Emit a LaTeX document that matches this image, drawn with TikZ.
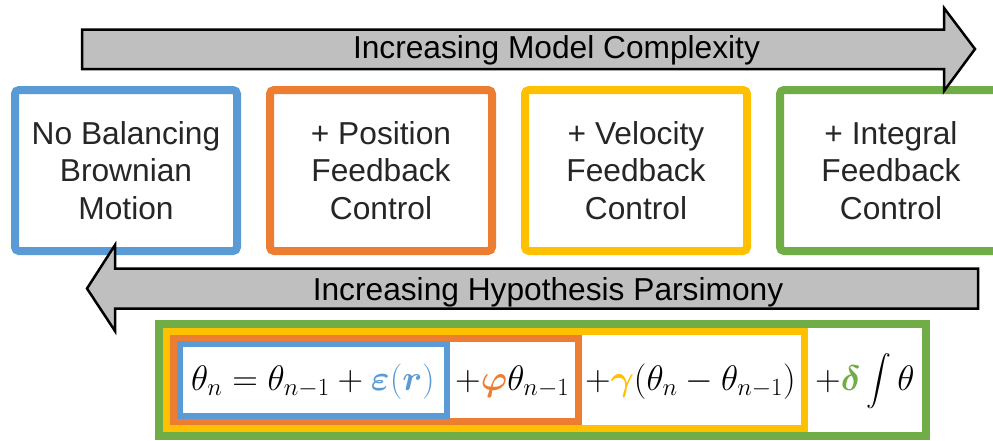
\RequirePackage{fix-cm}
\documentclass[tikz,border=0pt]{standalone}
\usepackage{amsmath,bm}
\usepackage[no-math]{fontspec}
\setmainfont{Liberation Sans}

\definecolor{boxblue}{HTML}{5B9BD5}
\definecolor{boxorange}{HTML}{ED7D31}
\definecolor{boxyellow}{HTML}{FFC000}
\definecolor{boxgreen}{HTML}{70AD47}
\definecolor{arrowgray}{HTML}{BFBFBF}
\definecolor{textdark}{HTML}{262626}

\tikzset{
  stagebox/.style={draw=#1, line width=8pt, rounded corners=4pt, fill=white,
    minimum width=222pt, minimum height=161pt, inner sep=0pt, align=center,
    text=textdark, font=\fontsize{31.7}{37.5}\selectfont},
  bigarrow/.style={draw=black, line width=2.5pt, fill=arrowgray, line join=miter},
  arrowlabel/.style={inner sep=0pt, anchor=base, text=black,
    font=\fontsize{31.7}{36}\selectfont},
  eqframe/.style={draw=#1},
  eqtext/.style={inner sep=0pt, anchor=base west, text=black,
    font=\fontsize{35.5}{40}\selectfont},
}

\begin{document}
\begin{tikzpicture}[x=1pt,y=-1pt]
\useasboundingbox[fill=white] (0,0) rectangle (993,440);

% model stages
\node[stagebox=boxblue]   (brown) at (126,170.5) {No Balancing\\Brownian\\Motion};
\node[stagebox=boxorange] (pos)   at (381,170.5) {+ Position\\Feedback\\Control};
\node[stagebox=boxyellow] (vel)   at (636,170.5) {+ Velocity\\Feedback\\Control};
\node[stagebox=boxgreen]  (integ) at (891,170.5) {+ Integral\\Feedback\\Control};

% complexity arrow (pointing right)
\draw[bigarrow] (82,29.5) -- (944,29.5) -- (944,8) -- (975,49) -- (944,91)
  -- (944,69) -- (82,69) -- cycle;
\node[arrowlabel] (complexity) at (556.5,58) {Increasing Model Complexity};

% parsimony arrow (pointing left)
\draw[bigarrow] (978,268.5) -- (115,268.5) -- (115,245) -- (87,288.5) -- (115,331)
  -- (115,308.5) -- (978,308.5) -- cycle;
\node[arrowlabel] (parsimony) at (548,300) {Increasing Hypothesis Parsimony};

% nested model equations
\draw[eqframe=boxgreen,  line width=8pt] (159,324) rectangle (926,436);
\draw[eqframe=boxyellow, line width=7pt] (166.5,331.5) rectangle (804.5,428.5);
\draw[eqframe=boxorange, line width=7pt] (173.5,338.5) rectangle (578.5,421.5);
\draw[eqframe=boxblue,   line width=6pt] (180,344) rectangle (447,416);

\node[eqtext] (eqbase) at (191,390)
  {$\theta_n=\theta_{n-1}+{\color{boxblue}\boldsymbol{\varepsilon}(\boldsymbol{r})}$};
\node[eqtext] (eqpos) at (455,390)
  {$+{\color{boxorange}\boldsymbol{\varphi}}\theta_{n-1}$};
\node[eqtext] (eqvel) at (585,390)
  {$+{\color{boxyellow}\boldsymbol{\gamma}}(\theta_n-\theta_{n-1})$};
\node[eqtext] (eqint) at (815,390)
  {$+{\color{boxgreen}\boldsymbol{\delta}}\displaystyle\int\theta$};
\end{tikzpicture}
\end{document}
